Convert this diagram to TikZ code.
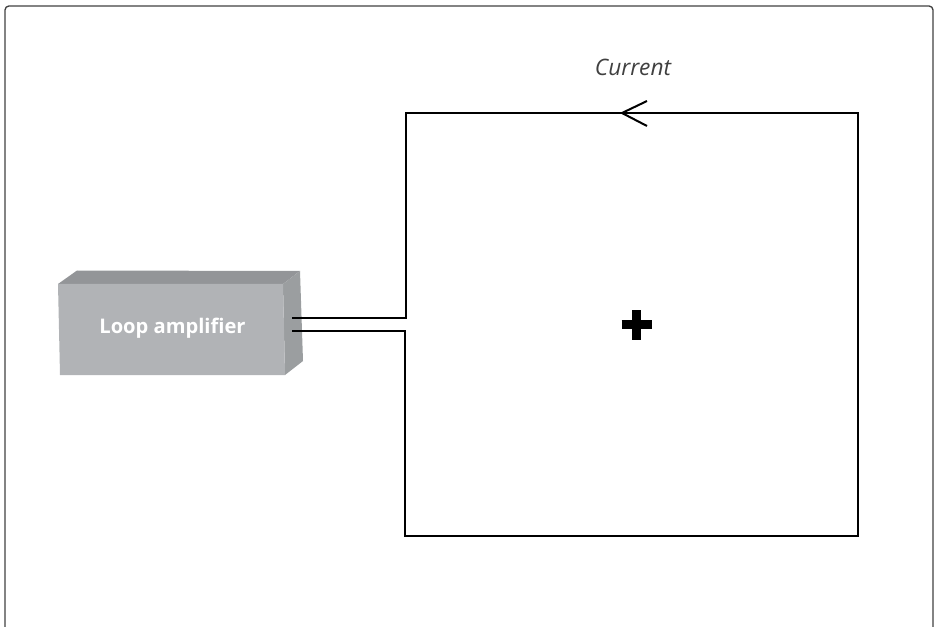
\documentclass[tikz,border=0pt]{standalone}
\usepackage{fontspec}
\setmainfont{Open Sans}
\definecolor{box-front}{HTML}{B1B3B6}
\definecolor{box-top}{HTML}{939598}
\definecolor{box-side}{HTML}{9B9EA0}
\definecolor{frame-grey}{HTML}{404040}
\begin{document}
\begin{tikzpicture}[
x=0.75pt, y=-0.75pt,
frame/.style={draw=frame-grey, line width=1pt, rounded corners=3pt},
wire/.style={draw=black, line width=1.5pt, line join=miter},
label-box/.style={text=white, font=\bfseries\fontsize{15.1}{18}\selectfont},
label-current/.style={text=black!75, font=\itshape\fontsize{17}{20}\selectfont}
]

\useasboundingbox (0,0) rectangle (935,627);
\draw [frame] (5,640) -- (5,6) -- (933,6) -- (933,640);

\fill [box-top] (58,284) -- (77,270.5) -- (300,271) -- (283,284) -- cycle;
\fill [box-side] (283,284) -- (300,271) -- (303,361) -- (285,375) -- cycle;
\fill [box-front] (58,284) -- (283,284) -- (285,375) -- (60,375) -- cycle;
\node [label-box] (amp) at (172.5,328) {Loop amplifier};
\node [label-current] (cur) at (633,67) {Current};

\coordinate (out-a) at (292,318);
\coordinate (out-b) at (292,331);
\coordinate (tip) at (622,113);
\coordinate (arm-a) at (647,101);
\coordinate (arm-b) at (647,126);
\coordinate (plus) at (636.5,324.5);

\draw [wire] (out-a) -- (405.5,318) -- (405.5,113) -- (857.5,113)
  -- (857.5,535.5) -- (404.5,535.5) -- (404.5,331) -- (out-b);
\draw [wire] (arm-a) -- (tip) -- (arm-b);

\draw [line width=6.4pt] ([xshift=-11.25pt]plus) -- ([xshift=11.25pt]plus);
\draw [line width=6.4pt] ([yshift=-11.25pt]plus) -- ([yshift=11.25pt]plus);

\end{tikzpicture}
\end{document}
